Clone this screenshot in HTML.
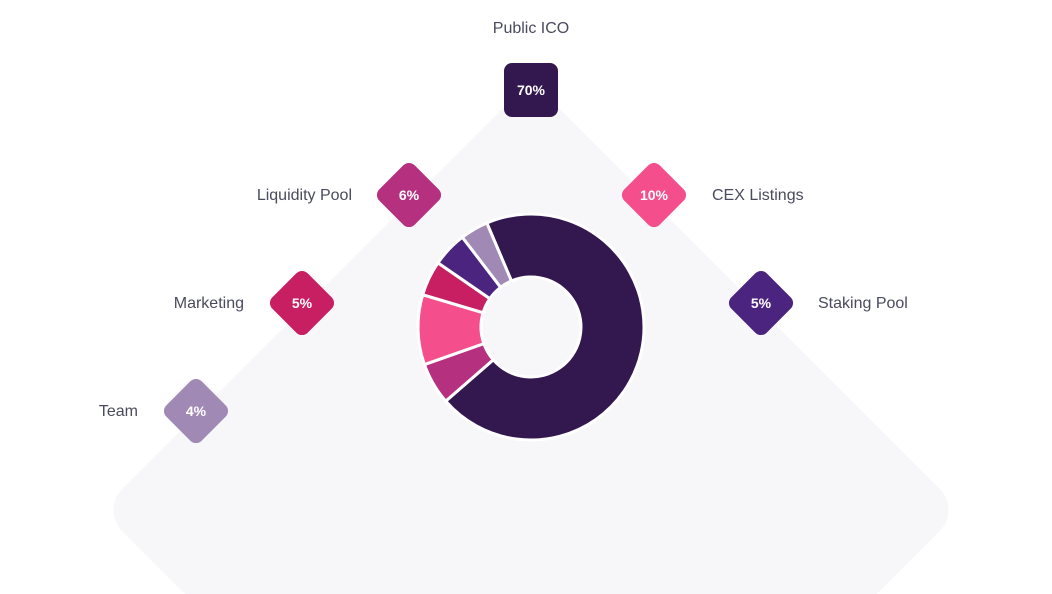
<!DOCTYPE html>
<html><head><meta charset="utf-8"><style>
body{margin:0;width:1052px;height:594px;overflow:hidden;background:#fff;font-family:"Liberation Sans",sans-serif;}
svg{position:absolute;left:0;top:0;overflow:hidden}
.lbl{font-size:16px;fill:#4a4a5e}
.pct{font-size:14px;font-weight:bold;fill:#fff}
</style></head><body>
<svg width="1052" height="594" viewBox="0 0 1052 594">
<rect x="227" y="206" width="608" height="608" rx="30" transform="rotate(45 531 510)" fill="#f7f7fa"/>
<g id="donut"></g>
<g id="badges"></g>
</svg>
<script>
const categories=["Public ICO","Liquidity Pool","CEX Listings","Marketing","Staking Pool","Team"];
const values=[70,6,10,5,5,4];
const colors=["#33184f","#b5307f","#f54e8d","#c81f62","#4b2480","#a089b5"];
const NS="http://www.w3.org/2000/svg";
const cx=531,cy=327,R=113,r=50,start=-23;
function pt(a,rad){const t=(a-90)*Math.PI/180;return [cx+rad*Math.cos(t),cy+rad*Math.sin(t)];}
const total=values.reduce((a,b)=>a+b,0);
let a=start;const donut=document.getElementById('donut');
values.forEach((v,i)=>{const s=a,e=a+v/total*360;a=e;
 const [x1,y1]=pt(s,R),[x2,y2]=pt(e,R),[x3,y3]=pt(e,r),[x4,y4]=pt(s,r);const lg=(e-s)>180?1:0;
 const p=document.createElementNS(NS,'path');
 p.setAttribute('d',`M${x1},${y1}A${R},${R} 0 ${lg} 1 ${x2},${y2}L${x3},${y3}A${r},${r} 0 ${lg} 0 ${x4},${y4}Z`);
 p.setAttribute('fill',colors[i]);p.setAttribute('stroke','#fff');p.setAttribute('stroke-width','3');
 
 
 donut.appendChild(p);});
const layout=[[531,90,0,531,33,'middle'],[409,195,1,352,200,'end'],[654,195,1,712,200,'start'],[302,303,1,244,308,'end'],[761,303,1,818,308,'start'],[196,411,1,138,416,'end']];
const badges=document.getElementById('badges');
layout.forEach((L,i)=>{const g=document.createElementNS(NS,'g');
 
 
 const s=L[2]?50:54;const rc=document.createElementNS(NS,'rect');
 rc.setAttribute('x',L[0]-s/2);rc.setAttribute('y',L[1]-s/2);rc.setAttribute('width',s);rc.setAttribute('height',s);rc.setAttribute('rx',8);
 rc.setAttribute('fill',colors[i]);if(L[2])rc.setAttribute('transform',`rotate(45 ${L[0]} ${L[1]})`);
 g.appendChild(rc);
 const t=document.createElementNS(NS,'text');t.setAttribute('x',L[0]);t.setAttribute('y',L[1]+5);t.setAttribute('text-anchor','middle');t.setAttribute('class','pct');t.textContent=values[i]+'%';g.appendChild(t);
 const l=document.createElementNS(NS,'text');l.setAttribute('x',L[3]);l.setAttribute('y',L[4]);l.setAttribute('text-anchor',L[5]);l.setAttribute('class','lbl');l.textContent=categories[i];
 
 
 g.appendChild(l);badges.appendChild(g);});
</script>
</body></html>
